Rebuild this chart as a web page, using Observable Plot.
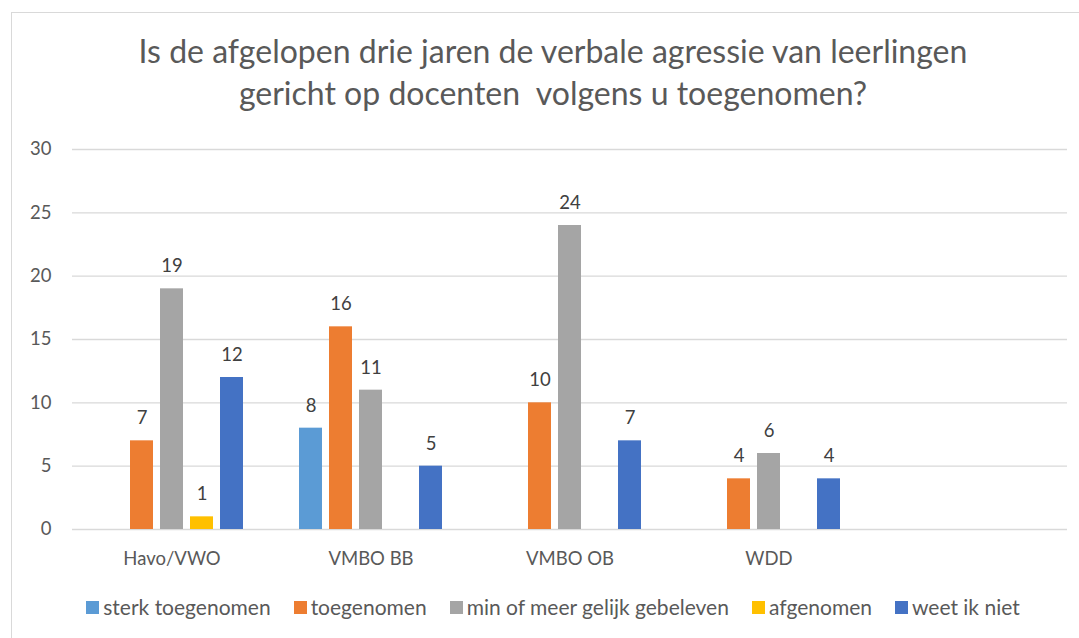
<!DOCTYPE html>
<html><head><meta charset="utf-8">
<script src="https://cdn.jsdelivr.net/npm/d3@7"></script>
<script src="https://cdn.jsdelivr.net/npm/@observablehq/plot@0.6"></script>
<style>
body{margin:0;background:#fff;}
#wrap{position:relative;width:1079px;height:638px;overflow:hidden;font-family:Lato,sans-serif;color:#595959;background:#fff;}
#box{position:absolute;left:11px;top:12px;width:1100px;height:700px;border:1px solid #d9d9d9;box-sizing:border-box;}
#title{position:absolute;left:11px;width:1084px;top:30px;text-align:center;font-size:32px;line-height:42px;white-space:pre;}
#chart{position:absolute;left:0;top:130px;}
#legend{position:absolute;left:11px;width:1084px;top:595px;display:flex;justify-content:center;font-size:21px;line-height:24px;}
.item{display:flex;align-items:center;margin:0 11.5px;}
.sw{width:13px;height:13px;margin-right:4px;}
</style></head>
<body>
<div id="wrap">
  <div id="box"></div>
  <div id="title"></div>
  <div id="chart"></div>
  <div id="legend"></div>
</div>
<script>
const titleLines = ["Is de afgelopen drie jaren de verbale agressie van leerlingen", "gericht op docenten  volgens u toegenomen?"];
const categories = ["Havo/VWO", "VMBO BB", "VMBO OB", "WDD", ""];
const series = ["sterk toegenomen", "toegenomen", "min of meer gelijk gebeleven", "afgenomen", "weet ik niet"];
const colors = ["#5B9BD5", "#ED7D31", "#A5A5A5", "#FFC000", "#4472C4"];
const sterkToegenomen = [null, 8, null, null, null];
const toegenomen = [7, 16, 10, 4, null];
const gelijkGebeleven = [19, 11, 24, 6, null];
const afgenomen = [1, null, null, null, null];
const weetIkNiet = [12, 5, 7, 4, null];
const yTicks = [0, 5, 10, 15, 20, 25, 30];

const values = [sterkToegenomen, toegenomen, gelijkGebeleven, afgenomen, weetIkNiet];
const rows = [];
series.forEach((s, i) => values[i].forEach((v, j) => {
  if (v != null) rows.push({category: categories[j], series: s, value: v});
}));
const gridRows = categories.flatMap(c => yTicks.map(t => ({category: c, tick: t})));

document.getElementById("title").textContent = titleLines.join("\n");

const chart = Plot.plot({
  width: 1079, height: 450,
  marginLeft: 71, marginRight: 12, marginTop: 19, marginBottom: 51,
  style: {fontFamily: "Lato, sans-serif", fontSize: "18.5px", color: "#595959", background: "transparent"},
  fx: {domain: categories, padding: 0, label: null},
  x: {domain: series, paddingInner: 0.246, paddingOuter: 0.885, axis: null},
  y: {domain: [0, 30], label: null},
  color: {domain: series, range: colors},
  marks: [
    Plot.ruleY(gridRows, {fx: "category", y: "tick", stroke: "#d9d9d9", strokeWidth: 1.3}),
    Plot.axisY(yTicks, {tickSize: 0, tickPadding: 21, label: null, fill: "#595959", fontSize: 18.5}),
    Plot.axisFx({anchor: "bottom", tickSize: 0, tickPadding: 22, label: null, fontSize: 18.5, fill: "#595959"}),
    Plot.barY(rows, {fx: "category", x: "series", y: "value", fill: "series"}),
    Plot.text(rows, {fx: "category", x: "series", y: "value", text: d => String(d.value), dy: -22.5, fill: "#404040", fontSize: 18.5})
  ]
});
document.getElementById("chart").appendChild(chart);

const legend = document.getElementById("legend");
series.forEach((s, i) => {
  const item = document.createElement("div");
  item.className = "item";
  const sw = document.createElement("div");
  sw.className = "sw";
  sw.style.background = colors[i];
  const label = document.createElement("span");
  label.textContent = s;
  item.appendChild(sw);
  item.appendChild(label);
  legend.appendChild(item);
});
</script>
</body></html>
